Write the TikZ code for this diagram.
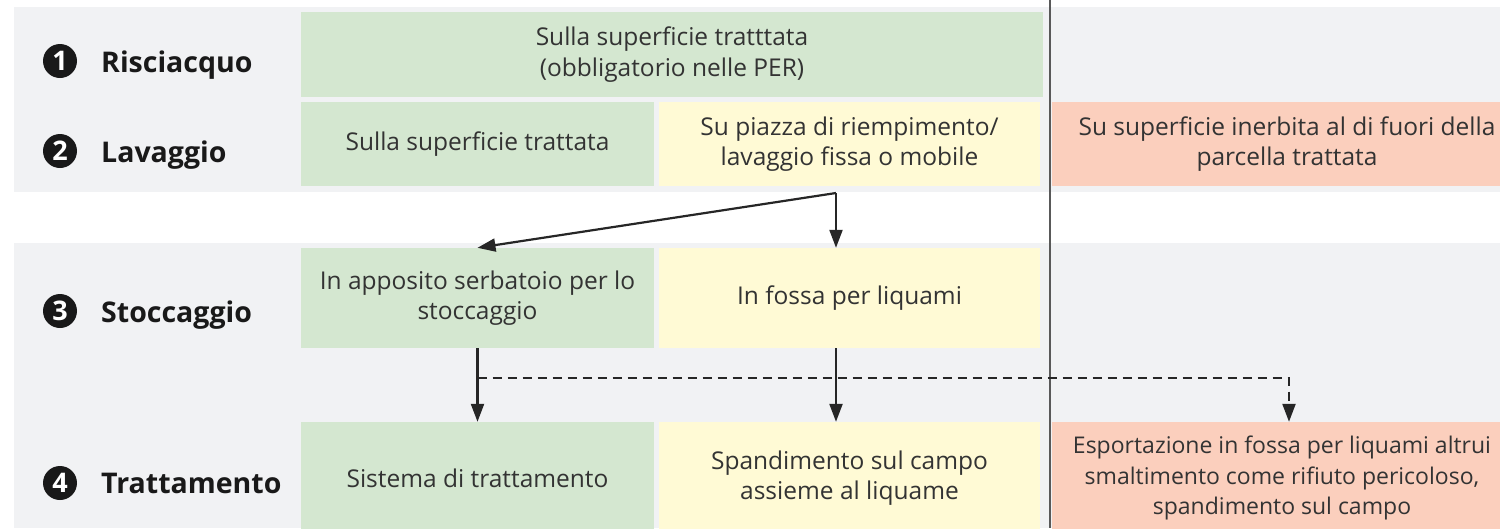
\documentclass[tikz,border=0pt]{standalone}
\usepackage{fontspec}
\setmainfont{Open Sans}
\usetikzlibrary{arrows.meta}

\definecolor{bandgray}{HTML}{F1F2F4}
\definecolor{okgreen}{HTML}{D4E7D0}
\definecolor{okyellow}{HTML}{FFFAD5}
\definecolor{nored}{HTML}{FBCFBD}
\definecolor{celltext}{HTML}{333333}

\tikzset{   cell/.style={inner sep=0pt,align=center,text=celltext,font=\fontsize{24.5}{30.5}\selectfont},
            cellgreen/.style={cell,fill=okgreen},
            cellyellow/.style={cell,fill=okyellow},
            cellred/.style={cell,fill=nored},
            numdot/.style={circle,fill=black!90,text=white,minimum size=34pt,inner sep=0pt,font=\fontsize{27}{27}\selectfont\bfseries},
            phase/.style={anchor=base west,inner sep=0pt,text=black!90,font=\fontsize{28.5}{28.5}\selectfont\bfseries},
            flow/.style={-{Triangle[length=18pt,width=13pt]},line width=2.2pt,draw=black!85},
            flowdash/.style={flow,dash pattern=on 9pt off 6pt},
}

\begin{document}
\begin{tikzpicture}[x=1pt,y=-1pt]
    \clip (0,0) rectangle (1500,528);
    \fill[bandgray] (14,7) rectangle (1500,192);    % background bands
    \fill[bandgray] (14,243) rectangle (1500,528);

    \node[numdot] (n1) at (60,61) {1};  % phase labels
    \node[phase] (p1) at (101,72) {Risciacquo};
    \node[numdot] (n2) at (60,151) {2};
    \node[phase] (p2) at (101,162) {Lavaggio};
    \node[numdot] (n3) at (60,311) {3};
    \node[phase] (p3) at (101,322) {Stoccaggio};
    \node[numdot] (n4) at (60,483) {4};
    \node[phase] (p4) at (101,493) {Trattamento};

    \node[cellgreen,minimum width=742pt,minimum height=85pt] (rinse) at (672,54.5) {Sulla superficie tratttata\\(obbligatorio nelle PER)};

    \node[cellgreen,minimum width=353pt,minimum height=84pt] (washG) at (477.5,144) {Sulla superficie trattata};
    \node[cellyellow,minimum width=381pt,minimum height=84pt] (washY) at (849.5,144) {Su piazza di riempimento/\\lavaggio fissa o mobile};
    \node[cellred,minimum width=470pt,minimum height=84pt] (washR) at (1287,144) {Su superficie inerbita al di fuori della\\parcella trattata};

    \node[cellgreen,minimum width=353pt,minimum height=100pt] (storeG) at (477.5,298) {In apposito serbatoio per lo\\stoccaggio};
    \node[cellyellow,minimum width=381pt,minimum height=100pt] (storeY) at (849.5,298) {In fossa per liquami};

    \node[cellgreen,minimum width=353pt,minimum height=112pt] (treatG) at (477.5,478) {Sistema di trattamento};
    \node[cellyellow,minimum width=381pt,minimum height=112pt] (treatY) at (849.5,478) {Spandimento sul campo\\assieme al liquame};
    \node[cellred,minimum width=460pt,minimum height=112pt,font=\fontsize{23}{30.5}\selectfont] (treatR) at (1282,478) {Esportazione in fossa per liquami altrui\\smaltimento come rifiuto pericoloso,\\spandimento sul campo};

    \draw[line width=1.8pt,black!65] (1050,0) -- (1050,528);    % divider

    \coordinate (split) at (836,193);    % arrows
    \coordinate (branch) at (477.5,378);
    \draw[flow] (split) -- (storeG.north);
    \draw[flow] (split) -- (split |- storeY.north);
    \draw[flowdash] (branch) -| ([xshift=7pt]treatR.north);
    \draw[flow] (storeG.south) -- (treatG.north);
    \draw[flow] (storeY.south -| split) -- (treatY.north -| split);
\end{tikzpicture}
\end{document}
